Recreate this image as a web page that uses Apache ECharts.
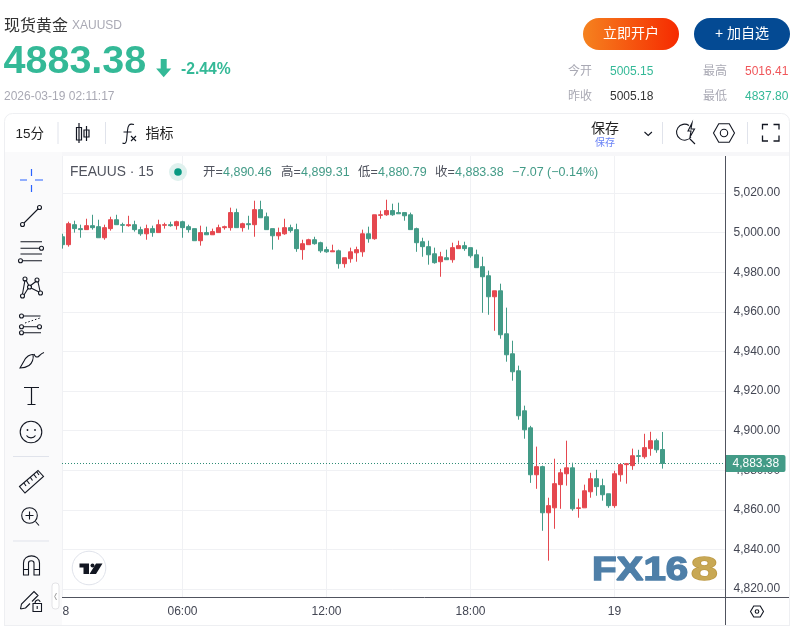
<!DOCTYPE html>
<html><head><meta charset="utf-8">
<style>html,body{margin:0;padding:0;background:#fff}#c{width:796px;height:629px}</style>
<script src="https://cdn.jsdelivr.net/npm/echarts@6/dist/echarts.min.js"></script>
</head><body><div id="c"></div>
<script>
const opens=[4997.9,4993.9,5004.0,5002.0,5001.5,5003.5,5003.0,4997.4,5002.0,5006.5,5004.0,5003.5,5004.0,5001.5,4999.4,5002.0,5000.0,5003.7,5004.0,5003.5,
5005.5,5003.0,5002.0,4995.9,5000.0,4998.9,5000.0,5002.5,5002.5,5010.1,5002.5,5004.5,5004.0,5011.6,5008.0,5002.0,4998.4,4999.4,5002.5,5001.5,
4991.4,4993.9,4996.4,4994.9,4991.4,4990.3,4990.8,4984.3,4986.8,4989.8,4990.3,4999.4,4996.9,5008.7,5009.0,5011.1,5010.1,5010.1,5009.0,5002.0,
4995.4,4992.9,4989.3,4985.3,4987.3,4986.3,4991.9,4993.4,4992.4,4988.8,4982.8,4978.2,4967.6,4970.6,4948.9,4938.8,4930.2,4910.0,4901.4,4877.7,
4881.8,4858.5,4861.0,4872.7,4878.2,4881.2,4860.7,4861.0,4869.1,4875.7,4872.2,4868.1,4862.1,4877.7,4882.8,4882.3,4887.3,4886.8,4890.9,4894.9,4890.46];
const closes=[4993.9,5004.5,5002.0,5001.5,5003.5,5002.5,4997.4,5002.5,5006.5,5004.0,5003.7,5004.0,5001.5,4999.4,5002.0,5000.0,5004.0,5004.0,5003.5,5005.5,
5002.5,5001.5,4995.9,5000.0,4998.9,5000.5,5002.5,5003.0,5010.1,5002.5,5004.5,5004.0,5011.6,5007.5,5001.5,4998.4,5000.0,5002.5,5001.0,4991.9,
4994.4,4996.4,4994.4,4990.8,4990.3,4990.8,4984.3,4987.3,4990.3,4991.4,4999.4,4996.9,5009.0,5009.0,5011.1,5009.0,5009.5,5008.5,5001.5,4994.9,
4992.9,4988.8,4984.8,4987.8,4986.3,4992.4,4993.4,4991.9,4988.3,4982.3,4977.7,4967.6,4970.6,4948.4,4938.3,4929.7,4907.5,4900.4,4877.7,4881.8,
4858.5,4862.1,4873.2,4878.7,4881.2,4860.5,4861.0,4869.6,4875.7,4871.7,4867.6,4862.1,4878.2,4882.8,4883.3,4887.3,4887.0,4891.4,4894.9,4890.3,4883.38];
const highs=[4999.4,5005.5,5006.0,5004.0,5007.0,5009.0,5006.5,5004.0,5008.0,5009.0,5005.0,5008.5,5006.0,5003.0,5004.0,5003.5,5006.5,5005.0,5005.5,5006.0,
5006.0,5004.0,5002.0,5003.5,5003.0,5002.0,5004.0,5003.5,5012.6,5012.1,5005.0,5008.5,5016.1,5016.1,5010.1,5002.0,5002.5,5007.0,5004.0,5004.5,
4996.4,4996.9,4997.9,4995.4,4992.9,4993.9,4991.4,4987.3,4992.4,4992.9,5001.5,5003.0,5009.0,5011.1,5016.6,5014.6,5015.1,5010.1,5010.1,5002.5,
4997.4,4995.9,4992.4,4990.3,4991.4,4994.9,4995.9,4995.4,4992.4,4991.4,4987.8,4980.8,4970.6,4974.2,4962.1,4945.4,4932.8,4912.6,4902.4,4891.9,
4882.3,4866.1,4885.8,4880.7,4894.9,4883.8,4865.6,4872.7,4878.7,4880.2,4875.7,4868.1,4879.7,4883.3,4883.3,4890.9,4890.3,4898.4,4899.4,4895.9,4899.31];
const lows=[4991.9,4992.9,5000.0,4997.4,5001.5,5001.5,4997.4,4996.4,5001.0,5004.0,5000.0,5003.0,5000.5,4998.4,4996.4,4997.9,5000.0,5002.0,5003.0,5001.5,
4997.4,5000.0,4995.9,4993.4,4998.9,4998.9,5000.0,5001.5,5001.0,5002.5,5000.5,5001.5,4997.9,5007.5,5001.5,4991.4,4996.4,4998.9,5000.0,4990.3,
4986.3,4993.9,4993.9,4989.8,4989.8,4990.3,4981.8,4982.3,4984.8,4985.3,4987.8,4994.9,4996.4,5007.0,5008.5,5008.5,5009.5,5006.0,5001.5,4990.3,
4987.8,4983.8,4984.3,4977.7,4986.3,4984.8,4991.9,4990.8,4987.3,4982.3,4959.5,4958.5,4950.4,4946.4,4934.8,4925.2,4905.5,4895.9,4873.6,4870.6,
4849.4,4834.3,4850.4,4860.5,4872.2,4859.5,4856.0,4861.0,4866.1,4867.1,4864.6,4861.0,4861.0,4874.2,4873.2,4880.2,4883.8,4885.8,4887.3,4888.8,4880.79];
const tickIndexes=[0,20,44,68,92];
const tickLabels=['18','06:00','12:00','18:00','19'];
const priceTicks=[5020,5000,4980,4960,4940,4920,4900,4880,4860,4840,4820];
const changeText='\u22127.07 (\u22120.14%)';
const emptySlots=10;
const categories=[];
for(let i=0;i<opens.length+emptySlots;i++){const k=tickIndexes.indexOf(i);categories.push(k>=0?tickLabels[k]:'c'+i);}

const UP='#e5484f',DOWN='#439b87',SANS='"Liberation Sans","Noto Sans CJK SC",sans-serif';
const fmt=v=>v.toLocaleString('en-US',{minimumFractionDigits:2,maximumFractionDigits:2});
const g=[];
let pathId=0;
const T=(x,y,text,s={})=>g.push({type:'text',x,y,z:s.z||30,silent:true,style:{text,fill:s.c||'#333',font:`${s.w||'normal'} ${s.s||12}px ${SANS}`,textAlign:s.a||'left',textVerticalAlign:'middle'}});
const R=(x,y,w,h,fill,s={})=>g.push({type:'rect',z:s.z||20,silent:true,shape:{x,y,width:w,height:h,r:s.r||0},style:{fill,stroke:s.st||null,lineWidth:s.lw||1}});
const P=(d,s={})=>{const name='icon'+(pathId++);echarts.graphic.registerShape(name,echarts.graphic.extendPath(d,{}));
  g.push({type:name,z:s.z||30,silent:true,style:{fill:s.fill||'none',stroke:s.fill&&!s.st?null:(s.st||'#131722'),lineWidth:s.lw||1.1,lineDash:s.dash||null}});};
const C=(cx,cy,r,s={})=>g.push({type:'circle',z:s.z||31,silent:true,shape:{cx,cy,r},style:{fill:s.fill||'none',stroke:s.st||(s.fill?null:'#131722'),lineWidth:s.lw||1.1}});
const grad=(a,b,h)=>new echarts.graphic.LinearGradient(0,0,h?1:0,h?0:1,[{offset:0,color:a},{offset:1,color:b}]);

// page header
R(0,0,796,113,'#fff');R(0,113,4,516,'#fff');R(790,113,6,516,'#fff');R(0,626,796,3,'#fff');
T(4,26.5,'现货黄金',{s:16,c:'#333'});T(72,25.5,'XAUUSD',{s:12,c:'#a9a9b4'});
T(3.5,62,'4883.38',{s:39.5,w:'bold',c:'#34b997'});
P('M160.7,59h6v9.5h4.6l-7.6,8.7l-7.6,-8.7h4.6z',{fill:'#34b997'});
T(181,70,'-2.44%',{s:15.7,w:'bold',c:'#34b997'});
T(4,96.5,'2026-03-19 02:11:17',{s:12,c:'#a9a9b4'});
R(583,18,96,32,grad('#f5821f','#f62a00',true),{r:16});T(631,34.5,'立即开户',{s:14,c:'#fff',a:'center'});
R(694,18,96,32,'#044a93',{r:16});T(742,34.5,'+ 加自选',{s:14,c:'#fff',a:'center'});
T(568,72,'今开',{c:'#a9a9b4'});T(610,72,'5005.15',{c:'#34b997'});T(703,72,'最高',{c:'#a9a9b4'});T(745,72,'5016.41',{c:'#f0565a'});
T(568,96.5,'昨收',{c:'#a9a9b4'});T(610,96.5,'5005.18',{c:'#333'});T(703,96.5,'最低',{c:'#a9a9b4'});T(745,96.5,'4837.80',{c:'#34b997'});

// card, toolbar, sidebar
R(4.5,113.5,785,39,'#fff',{r:[8,8,0,0],st:'#eeeff2'});
R(5,152,784,4,'#f7f7f9');R(5,152,57,473,'#fafafb');
R(4,152,1,474,'#eeeff2',{z:21});R(789,152,1,474,'#eeeff2',{z:21});R(4,625,786,1,'#eeeff2',{z:21});
T(15.5,134.5,'15分',{s:13.5,c:'#222'});
[58,105.5,662.5,747.5].forEach(x=>P(`M${x},122V144`,{st:'#e0e3eb',lw:1}));
P('M79,123V143M76.5,127.5h5v12.5h-5zM86.5,126V141M84,130h5v7h-5z',{lw:1.2});
P('M134,124.5c-5,-1.5 -6,1 -6.5,6l-1,10c-.5,3 -2,3.5 -4,2.5M123.5,132h8M131,136l5,5M136,136l-5,5',{lw:1.1});
T(145.5,134.5,'指标',{s:14,c:'#222'});
T(591,129.5,'保存',{s:14,c:'#222'});T(595,143.5,'保存',{s:10,c:'#6a83f6'});
P('M644.5,132l3.7,3.5l3.7,-3.5',{});
P('M689,125.5a8,8 0 1 0 2,11.5M688,131l4,-8l-1,6h3.5l-4.5,8l1,-6zM690,139l5,5',{lw:1.1});
const hex=(cx,cy,r,q)=>`M${cx-r},${cy}L${cx-r*.5},${cy-q}H${cx+r*.5}L${cx+r},${cy}L${cx+r*.5},${cy+q}H${cx-r*.5}Z`;
P(hex(724,133,10.5,9.2));C(724,133,3.7);
P('M762.5,129.5v-5h5.5M773.5,124.5h5.5v5M779,135.5v5.5h-5.5M768,141h-5.5v-5.5',{lw:1.3});

// drawing tools
P('M20,180h7M35,180h8M31.5,169v7M31.5,185v7',{st:'#2962ff',lw:1.2});
P('M24,223L38,209');C(22.5,224.5,2);C(39.5,207.5,2);
P('M20.5,241.7H42M20.5,248.3H39.5M20.5,254H42M23,260.7H42');C(41.5,248.3,2);C(20.5,260.7,2);
P('M25,280L22.5,294M26,280L29,286M30,286L36.5,281M31,288L39,292M38,282L40,291M28,288.5L24,295');C(25,279,2);C(37,280,2);C(29.5,287,2);C(22.5,296,2);C(40.5,293,2);
P('M24,316H40.5M24,326.7H37.5M24,332.7H41');C(21.5,316,2);C(21.5,326.7,2);C(21.5,332.7,2);C(39.5,326.7,2);
P('M25,323L40,318',{lw:1,dash:[1.5,2]});
P('M20,368l4,-7c2,-4 6,-7 9,-6.5c1,4 -1,9 -4,11c-3,2 -6,2.5 -9,2.5zM34,354c1,3 3,4 5,2c1,-1 3,-3 5,-3.5');
P('M24,387.5H39M31.5,387.5V404.5M27.5,404.5H35.5',{lw:1.2});
C(31,432,10.8);C(27.5,430,.9,{fill:'#131722'});C(35,430,.9,{fill:'#131722'});P('M26.5,435.5c2,3.2 7,3.2 9,0');
P('M13,456.5H49M13,541H49',{st:'#e0e3eb',lw:1});
P('M19.5,486.5L38,470.5L43.5,476.5L25,493ZM24,483l2,3M27,480.5l2.5,3.5M30.5,477.5l2,3M34,474.5l2.5,3.5M37,472l2,3');
C(29.5,515.5,7.8);P('M25.5,515.5h8M29.5,511.5v8M35.5,521.5L39,525.5');
P('M23.5,575V563c0,-9.5 16,-9.5 16,0V575H34V563c0,-3 -5.5,-3 -5.5,0V575ZM23.5,569.5H28.5M34,569.5H39.5');
P('M20.5,609l1,-5L34,591.5L38,595.5L32,601.5M25.5,608L30,603.5M20.5,609L25.5,608M33,603.5h8.5v8H33ZM35,603.5c0,-4.5 5,-4.5 5,-1.5M37.2,606v3');
R(52,583,7,26,'#fff',{r:3,st:'#e3e3e6',z:22});P('M56.5,593l-1.8,3.5l1.8,3.5',{st:'#9a9a9a',lw:1});

// chart pane lines
P('M60,597.5H789',{st:'#50535e',lw:1,z:15});
P('M725.5,156V625',{st:'#50535e',lw:1,z:15});
P(hex(757,611.5,6.5,5.5));C(757,611.5,1.8);

// legend overlay
T(70,172,'FEAUUS · 15',{s:13.8,c:'#50535e',z:12});
C(178,172,9,{fill:'#dff1ee',z:12});C(178,172,3.8,{fill:'#089981',z:13});
const last=opens.length-1;
const legend=[[203,'开',opens[last]],[281,'高',highs[last]],[358,'低',lows[last]],[435,'收',closes[last]]];
legend.forEach(([x,k,v])=>{T(x,173,k+'=',{s:12.5,c:'#50535e',z:12});T(x+20,173,fmt(v),{s:12.5,c:DOWN,z:12});});
T(512,173,changeText,{s:12.5,c:DOWN,z:12});

// watermark + library logo
const WM={z:3,silent:true};
const wmShadow={shadowColor:'rgba(50,50,50,.55)',shadowBlur:2,shadowOffsetX:1,shadowOffsetY:1};
g.push({type:'text',x:592,y:570.5,scaleX:1.22,...WM,style:{text:'FX16',fill:'#4e7fa8',stroke:'#4e7fa8',lineWidth:1.4,font:`bold 33px ${SANS}`,textVerticalAlign:'middle',...wmShadow}});
g.push({type:'text',x:691,y:570.5,scaleX:1.45,...WM,style:{text:'8',fill:'#c8a854',stroke:'#bd9a46',lineWidth:1.4,font:`bold 33px ${SANS}`,textVerticalAlign:'middle',...wmShadow}});
C(89,568,16.8,{fill:'#fff',st:'#e0e3eb',lw:1,z:4});
P('M79.5,563.5H89V574H83.5V567.5H79.5ZM96,563.5H102.5L96,574H89.5Z',{fill:'#131722',z:5});C(92.5,565.5,2,{fill:'#131722',z:5});

const option={
  animation:false,backgroundColor:'#fff',
  grid:[{left:59.5,width:666,top:153.4,height:435.6},{left:62.5,width:660,top:155,height:443}],
  xAxis:[
    {type:'category',gridIndex:0,data:categories,show:false,boundaryGap:true},
    {type:'category',gridIndex:1,data:categories,boundaryGap:false,
     axisLine:{show:false},axisTick:{show:false},
     splitLine:{show:true,interval:i=>tickIndexes.includes(i),lineStyle:{color:'#f0f1f4',width:1}},
     axisLabel:{interval:i=>tickIndexes.includes(i),hideOverlap:false,showMinLabel:true,color:'#434653',fontSize:12,fontFamily:SANS,margin:8}}
  ],
  yAxis:[
    {type:'value',gridIndex:0,min:priceTicks[priceTicks.length-1],max:5040,interval:20,position:'right',
     axisLine:{show:false},axisTick:{show:false},
     splitLine:{show:true,lineStyle:{color:'#f0f1f4',width:1}},
     axisLabel:{show:true,showMaxLabel:false,margin:8,color:'#434653',fontSize:12,fontFamily:SANS,formatter:fmt,padding:[0,0,3,0]}},
    {type:'value',gridIndex:1,min:0,max:1,show:false}
  ],
  series:[{type:'candlestick',xAxisIndex:0,yAxisIndex:0,barWidth:5,z:5,
    itemStyle:{color:UP,color0:DOWN,borderColor:UP,borderColor0:DOWN,borderWidth:1},
    data:opens.map((o,i)=>[o,closes[i],lows[i],highs[i]]),
    markLine:{silent:true,symbol:'none',animation:false,
      lineStyle:{color:'#2f8c76',type:[1,2],dashOffset:0.5,width:1,opacity:1},
      label:{show:true,position:'end',distance:0,formatter:p=>fmt(p.value),color:'#fff',fontSize:12,fontFamily:SANS,backgroundColor:DOWN,borderRadius:[0,2,2,0],width:53,height:17,lineHeight:17,verticalAlign:'middle',align:'left',padding:[0,0,0,7]},
      data:[{yAxis:closes[last]}]}
  }],
  graphic:{elements:g}
};
const chart=echarts.init(document.getElementById('c'),null,{renderer:'canvas',width:796,height:629});
chart.setOption(option);
</script></body></html>
